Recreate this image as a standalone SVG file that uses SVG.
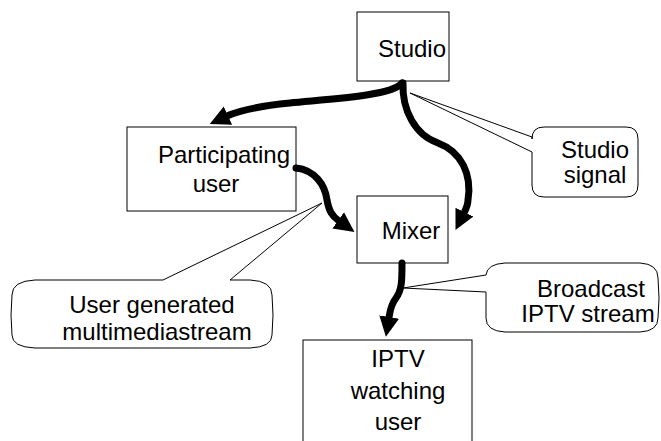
<svg xmlns="http://www.w3.org/2000/svg" width="661" height="441" viewBox="0 0 661 441">
<style>
.box{fill:#fff;stroke:#000;stroke-width:1}
.call{fill:#fff;stroke:#000;stroke-width:1}
.t{font-family:"Liberation Sans",Arial,sans-serif;font-size:24px;fill:#000;text-anchor:middle}
.conn{fill:none;stroke:#000;stroke-width:7;stroke-linecap:round;marker-end:url(#ah)}
</style>
<defs>
<marker id="ah" markerUnits="userSpaceOnUse" markerWidth="22" markerHeight="22" refX="1" refY="10" orient="auto" viewBox="0 0 22 20">
<path d="M0,0 L20,10 L0,20 Z" fill="#000"/>
</marker>
</defs>
<g id="callouts">
<path id="studio-signal-callout" class="call" d="M544,127 H626 Q638,127 638,139 V185 Q638,197 626,197 H544 Q532,197 532,185 V152 L410,93 L532,137 V139 Q532,127 544,127 Z"/>
<path id="user-stream-callout" class="call" d="M35,280 H163 L322,203 L230,280 H250 Q272,281 272,295 Q274,315 272,335 Q272,347 250,348 H35 Q12,347 12,335 Q10,315 12,295 Q12,281 35,280 Z"/>
<path id="broadcast-callout" class="call" d="M505,263 H640 Q658,264 658,278 Q660,298 658,318 Q658,331 640,332 H505 Q486,331 486,318 V292 L403,288 L486,275 Q487,264 505,263 Z"/>
</g>
<g id="studio">
<rect class="box" x="357" y="12" width="92" height="69"/>
<text class="t" x="412" y="57">Studio</text>
</g>
<g id="participating">
<rect class="box" x="127" y="127" width="169" height="84"/>
<text class="t" x="224" y="163">Participating</text>
<text class="t" x="216" y="192">user</text>
</g>
<g id="mixer">
<rect class="box" x="357" y="196" width="91" height="67"/>
<text class="t" x="411" y="239">Mixer</text>
</g>
<g id="iptv">
<rect class="box" x="303" y="340" width="169" height="110"/>
<text class="t" x="398" y="367">IPTV</text>
<text class="t" x="398" y="399">watching</text>
<text class="t" x="398" y="430">user</text>
</g>
<g id="labels">
<text class="t" x="595" y="158">Studio</text>
<text class="t" x="595" y="183">signal</text>
<text class="t" x="152" y="313">User generated</text>
<text class="t" x="157" y="340">multimediastream</text>
<text class="t" x="591" y="297">Broadcast</text>
<text class="t" x="588" y="322">IPTV stream</text>
</g>
<g id="connectors">
<path class="conn" d="M402,83 C392,96 330,99 290,103 C260,106 240,110 227,116"/>
<path class="conn" d="M403,83 C402,110 415,135 438,143 C462,152 472,175 468,200 C468,204 467,207 464,213"/>
<path class="conn" d="M296,168 C315,170 325,185 327,200 C329,211 332,216 339,221"/>
<path class="conn" d="M402,263 C402,280 402,290 396,298 C390,306 390,312 389,318"/>
</g>
</svg>
